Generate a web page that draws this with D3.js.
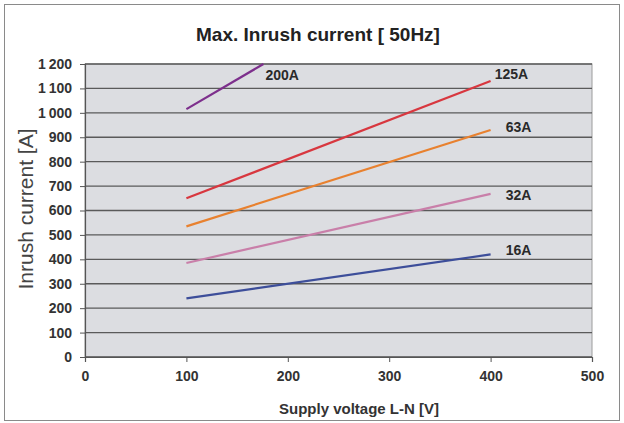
<!DOCTYPE html>
<html>
<head>
<meta charset="utf-8">
<script src="https://cdn.jsdelivr.net/npm/d3@7"></script>
<style>
  body { margin: 0; background: #fff; }
  svg text { font-family: "Liberation Sans", Arial, sans-serif; }
</style>
</head>
<body>
<div id="chart"></div>
<script>
  // series data (voltage V, current A)
  const voltages = [100, 400];
  const i16 = [240, 420];
  const i32 = [385, 668];
  const i63 = [535, 930];
  const i125 = [650, 1130];
  const v200 = [100, 176];
  const i200 = [1015, 1200];

  const seriesNames = ['16A', '32A', '63A', '125A', '200A'];
  const seriesColors = ['#3d4e9a', '#c97fa9', '#e8812f', '#d8373f', '#7d2f8c'];

  const xTicks = [0, 100, 200, 300, 400, 500];
  const yTicks = d3.range(0, 1201, 100);

  const W = 624, H = 423;
  const m = {left: 85, right: 32, top: 64, bottom: 66};

  const svg = d3.select('#chart').append('svg')
    .attr('width', W).attr('height', H);

  // outer frame
  svg.append('rect')
    .attr('x', 4.5).attr('y', 4.5)
    .attr('width', 615).attr('height', 416)
    .attr('fill', '#fff').attr('stroke', '#8a8a8a').attr('stroke-width', 1);

  let x = d3.scaleLinear().domain([0, 500]).range([m.left, W - m.right]);
  let y = d3.scaleLinear().domain([0, 1200]).range([H - m.bottom, m.top]);

  // plot background
  svg.append('rect')
    .attr('x', x(0)).attr('y', y(1200))
    .attr('width', x(500) - x(0)).attr('height', y(0) - y(1200))
    .attr('fill', '#dcdde1').attr('stroke', '#9c9c9c').attr('stroke-width', 1);

  // grid lines
  svg.append('g')
    .selectAll('line')
    .data(yTicks)
    .join('line')
      .attr('x1', x(0)).attr('x2', x(500))
      .attr('y1', d => y(d)).attr('y2', d => y(d))
      .attr('stroke', '#5a5a5a').attr('stroke-width', 1.4);

  // axes
  let yAxis = svg.append('g')
    .attr('transform', `translate(${x(0)},0)`)
    .call(d3.axisLeft(y).tickValues(yTicks).tickSize(5).tickPadding(8)
      .tickFormat(d => d >= 1000 ? d3.format(',')(d).replace(',', '\u2009') : d));
  yAxis.select('.domain').attr('stroke', '#555').attr('stroke-width', 1.2);
  yAxis.selectAll('.tick line').attr('stroke', '#555');
  yAxis.selectAll('text')
    .attr('font-size', 14).attr('font-weight', 'bold').attr('fill', '#333');

  let xAxis = svg.append('g')
    .attr('transform', `translate(0,${y(0)})`)
    .call(d3.axisBottom(x).tickValues(xTicks).tickSize(5).tickPadding(9));
  xAxis.select('.domain').attr('stroke', '#555').attr('stroke-width', 1.2);
  xAxis.selectAll('.tick line').attr('stroke', '#555');
  xAxis.selectAll('text')
    .attr('font-size', 14).attr('font-weight', 'bold').attr('fill', '#333');

  // series lines
  const seriesData = [
    voltages.map((v, i) => [v, i16[i]]),
    voltages.map((v, i) => [v, i32[i]]),
    voltages.map((v, i) => [v, i63[i]]),
    voltages.map((v, i) => [v, i125[i]]),
    v200.map((v, i) => [v, i200[i]])
  ];

  let line = d3.line().x(d => x(d[0])).y(d => y(d[1]));

  svg.append('g')
    .selectAll('path')
    .data(seriesData)
    .join('path')
      .attr('d', line)
      .attr('fill', 'none')
      .attr('stroke', (d, i) => seriesColors[i])
      .attr('stroke-width', 2.2);

  // series labels (anchored in data units)
  const labelPos = [[415, 418], [415, 643], [415, 921], [404, 1138], [178, 1134]];
  svg.append('g')
    .selectAll('text')
    .data(seriesNames)
    .join('text')
      .attr('x', (d, i) => x(labelPos[i][0]))
      .attr('y', (d, i) => y(labelPos[i][1]))
      .attr('font-size', 14).attr('font-weight', 'bold').attr('fill', '#2a2a2a')
      .text(d => d);

  // titles
  svg.append('text')
    .attr('x', 318).attr('y', 41)
    .attr('text-anchor', 'middle')
    .attr('font-size', 19).attr('font-weight', 'bold').attr('fill', '#222')
    .text('Max. Inrush current [ 50Hz]');

  svg.append('text')
    .attr('x', 359).attr('y', 414)
    .attr('text-anchor', 'middle')
    .attr('font-size', 15).attr('font-weight', 'bold').attr('fill', '#333')
    .text('Supply voltage L-N [V]');

  svg.append('text')
    .attr('transform', `translate(33,209) rotate(-90)`)
    .attr('text-anchor', 'middle')
    .attr('font-size', 21).attr('fill', '#444')
    .text('Inrush current [A]');
</script>
</body>
</html>
